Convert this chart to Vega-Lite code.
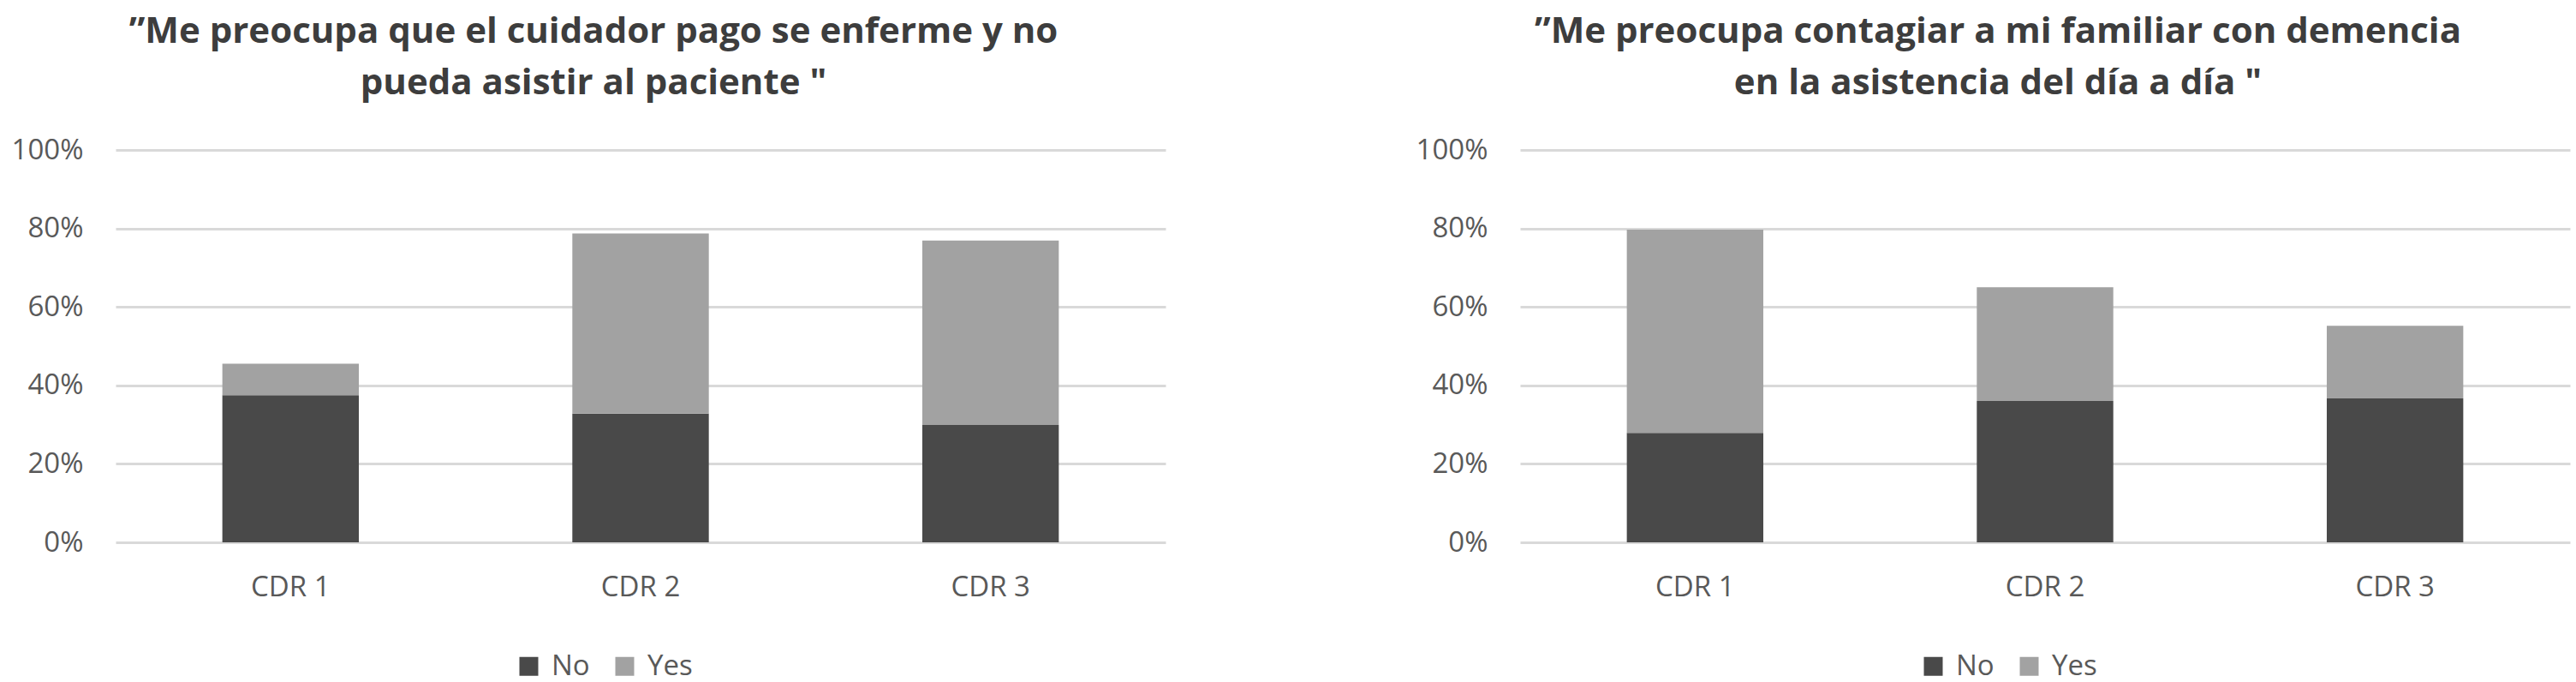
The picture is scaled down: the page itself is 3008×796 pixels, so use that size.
{
  "$schema": "https://vega.github.io/schema/vega-lite/v6.json",
  "background": "white",
  "padding": {"left": 13, "top": 16, "right": 10, "bottom": 5},
  "config": {
    "view": {"stroke": null},
    "font": "Open Sans",
    "title": {"font": "Open Sans", "fontSize": 42, "fontWeight": "bold", "color": "#3d3d3d", "lineHeight": 60, "anchor": "middle", "dx": -55, "offset": 40},
    "axis": {"labelFont": "Open Sans", "labelFontSize": 33, "labelColor": "#595959", "ticks": false, "domain": false, "title": null},
    "legend": {"labelFont": "Open Sans", "labelFontSize": 33, "labelColor": "#595959"}
  },
  "datasets": {
    "a": [
      {"cdr": "CDR 1", "resp": "No", "pct": 0.375},
      {"cdr": "CDR 1", "resp": "Yes", "pct": 0.08},
      {"cdr": "CDR 2", "resp": "No", "pct": 0.328},
      {"cdr": "CDR 2", "resp": "Yes", "pct": 0.459},
      {"cdr": "CDR 3", "resp": "No", "pct": 0.299},
      {"cdr": "CDR 3", "resp": "Yes", "pct": 0.47}
    ],
    "b": [
      {"cdr": "CDR 1", "resp": "No", "pct": 0.279},
      {"cdr": "CDR 1", "resp": "Yes", "pct": 0.518},
      {"cdr": "CDR 2", "resp": "No", "pct": 0.36},
      {"cdr": "CDR 2", "resp": "Yes", "pct": 0.29},
      {"cdr": "CDR 3", "resp": "No", "pct": 0.367},
      {"cdr": "CDR 3", "resp": "Yes", "pct": 0.185}
    ]
  },
  "spacing": 292,
  "resolve": {"scale": {"color": "independent"}, "legend": {"color": "independent"}},
  "hconcat": [
    {
      "title": {"text": ["”Me preocupa que el cuidador pago se enferme y no", "pueda asistir al paciente \""]},
      "data": {"name": "a"},
      "width": 1226,
      "height": 458,
      "mark": {"type": "bar"},
      "encoding": {
        "x": {"field": "cdr", "type": "nominal", "scale": {"paddingInner": 0.61, "paddingOuter": 0.305}, "axis": {"labelAngle": 0, "labelPadding": 36, "grid": false}},
        "y": {"field": "pct", "type": "quantitative", "stack": "zero", "scale": {"domain": [0, 1]}, "axis": {"format": "%", "values": [0, 0.2, 0.4, 0.6, 0.8, 1], "labelPadding": 38, "grid": true, "gridColor": "#d9d9d9", "gridWidth": 3}},
        "color": {"field": "resp", "type": "nominal", "scale": {"domain": ["No", "Yes"], "range": ["#494949", "#a2a2a2"]}, "legend": {"title": null, "orient": "none", "legendX": 466, "legendY": 586, "direction": "horizontal", "symbolType": "square", "symbolSize": 484, "symbolStrokeWidth": 0, "labelOffset": 10, "columnPadding": 24}},
        "order": {"field": "resp", "type": "nominal", "sort": "ascending"}
      }
    },
    {
      "title": {"text": ["”Me preocupa contagiar a mi familiar con demencia", "en la asistencia del día a día \""]},
      "data": {"name": "b"},
      "width": 1226,
      "height": 458,
      "mark": {"type": "bar"},
      "encoding": {
        "x": {"field": "cdr", "type": "nominal", "scale": {"paddingInner": 0.61, "paddingOuter": 0.305}, "axis": {"labelAngle": 0, "labelPadding": 36, "grid": false}},
        "y": {"field": "pct", "type": "quantitative", "stack": "zero", "scale": {"domain": [0, 1]}, "axis": {"format": "%", "values": [0, 0.2, 0.4, 0.6, 0.8, 1], "labelPadding": 38, "grid": true, "gridColor": "#d9d9d9", "gridWidth": 3}},
        "color": {"field": "resp", "type": "nominal", "scale": {"domain": ["No", "Yes"], "range": ["#494949", "#a2a2a2"]}, "legend": {"title": null, "orient": "none", "legendX": 466, "legendY": 586, "direction": "horizontal", "symbolType": "square", "symbolSize": 484, "symbolStrokeWidth": 0, "labelOffset": 10, "columnPadding": 24}},
        "order": {"field": "resp", "type": "nominal", "sort": "ascending"}
      }
    }
  ]
}
